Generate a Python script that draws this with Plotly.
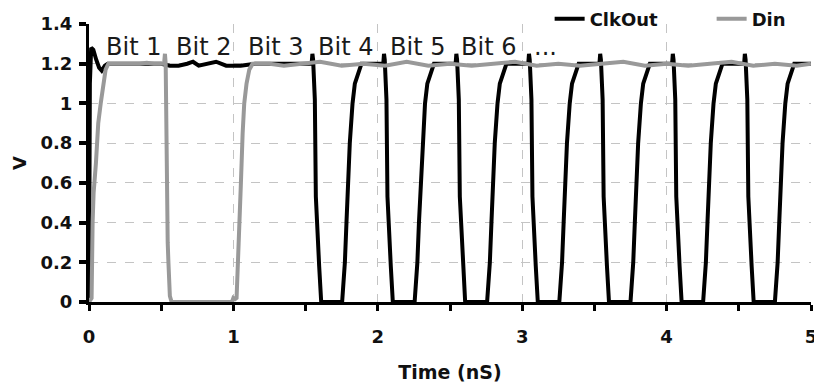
import plotly.graph_objects as go

# ---- data ----
clk_t = [0.000, 0.006, 0.015, 0.030, 0.050, 0.070, 0.088, 0.110, 0.130, 0.300, 0.500,
         0.560, 0.620, 0.680, 0.720, 0.760, 0.820, 0.880, 0.950, 1.050, 1.150, 1.400, 1.542,
         1.547, 1.552, 1.564, 1.571, 1.594, 1.603, 1.608,
         1.753, 1.772, 1.783, 1.795, 1.806, 1.825, 1.841, 1.887, 2.038,
         2.043, 2.048, 2.060, 2.067, 2.090, 2.099, 2.104,
         2.255, 2.274, 2.285, 2.297, 2.308, 2.327, 2.343, 2.389, 2.539,
         2.544, 2.549, 2.561, 2.568, 2.591, 2.600, 2.605,
         2.757, 2.776, 2.787, 2.799, 2.810, 2.829, 2.845, 2.891, 3.042,
         3.047, 3.052, 3.064, 3.071, 3.094, 3.103, 3.108,
         3.257, 3.276, 3.287, 3.299, 3.310, 3.329, 3.345, 3.391, 3.535,
         3.540, 3.545, 3.557, 3.564, 3.587, 3.596, 3.601,
         3.750, 3.769, 3.780, 3.792, 3.803, 3.822, 3.838, 3.884, 4.038,
         4.043, 4.048, 4.060, 4.067, 4.090, 4.099, 4.104,
         4.253, 4.272, 4.283, 4.295, 4.306, 4.325, 4.341, 4.387, 4.537,
         4.542, 4.547, 4.559, 4.566, 4.589, 4.598, 4.603,
         4.750, 4.769, 4.780, 4.792, 4.803, 4.822, 4.838, 4.884, 5.000]
clk_v = [0.00, 1.10, 1.28, 1.27, 1.22, 1.18, 1.165, 1.19, 1.20, 1.20, 1.20,
         1.19, 1.19, 1.20, 1.21, 1.19, 1.20, 1.21, 1.19, 1.19, 1.20, 1.20, 1.20,
         1.25, 1.22, 1.02, 0.53, 0.18, 0.08, 0.00,
         0.00, 0.20, 0.40, 0.60, 0.80, 1.00, 1.10, 1.20, 1.20,
         1.25, 1.22, 1.02, 0.53, 0.18, 0.08, 0.00,
         0.00, 0.20, 0.40, 0.60, 0.80, 1.00, 1.10, 1.20, 1.20,
         1.25, 1.22, 1.02, 0.53, 0.18, 0.08, 0.00,
         0.00, 0.20, 0.40, 0.60, 0.80, 1.00, 1.10, 1.20, 1.20,
         1.25, 1.22, 1.02, 0.53, 0.18, 0.08, 0.00,
         0.00, 0.20, 0.40, 0.60, 0.80, 1.00, 1.10, 1.20, 1.20,
         1.25, 1.22, 1.02, 0.53, 0.18, 0.08, 0.00,
         0.00, 0.20, 0.40, 0.60, 0.80, 1.00, 1.10, 1.20, 1.20,
         1.25, 1.22, 1.02, 0.53, 0.18, 0.08, 0.00,
         0.00, 0.20, 0.40, 0.60, 0.80, 1.00, 1.10, 1.20, 1.20,
         1.25, 1.22, 1.02, 0.53, 0.18, 0.08, 0.00,
         0.00, 0.20, 0.40, 0.60, 0.80, 1.00, 1.10, 1.20, 1.20]

din_t = [0.000, 0.018, 0.025, 0.032, 0.048, 0.064, 0.081, 0.099, 0.115, 0.134, 0.200, 0.250,
         0.300, 0.350, 0.400, 0.450, 0.520, 0.526, 0.531, 0.534, 0.545, 0.550, 0.560, 0.572,
         0.950, 0.990, 1.000, 1.012, 1.022, 1.030, 1.038, 1.052, 1.064, 1.075, 1.091, 1.110,
         1.133, 1.250, 1.350, 1.450, 1.600, 1.750, 1.900, 2.050, 2.200, 2.350, 2.500, 2.650,
         2.800, 2.950, 3.100, 3.250, 3.400, 3.550, 3.700, 3.850, 4.000, 4.150, 4.300, 4.450,
         4.600, 4.750, 4.900, 5.000]
din_v = [0.00, 0.02, 0.40, 0.55, 0.70, 0.90, 1.00, 1.10, 1.17, 1.20, 1.20, 1.195,
         1.20, 1.20, 1.205, 1.20, 1.20, 1.25, 1.20, 0.90, 0.30, 0.20, 0.03, 0.00,
         0.00, 0.00, 0.02, 0.015, 0.02, 0.15, 0.30, 0.60, 0.85, 1.00, 1.10, 1.17,
         1.20, 1.20, 1.19, 1.20, 1.21, 1.19, 1.20, 1.19, 1.21, 1.19, 1.20, 1.19,
         1.20, 1.21, 1.19, 1.20, 1.19, 1.20, 1.21, 1.19, 1.20, 1.19, 1.20, 1.21,
         1.19, 1.20, 1.19, 1.20]

bit_labels = ["Bit 1", "Bit 2", "Bit 3", "Bit 4", "Bit 5", "Bit 6", "..."]
bit_x = [0.105, 0.590, 1.088, 1.573, 2.071, 2.562, 3.067]
bit_y = 1.285

x_ticks = [0, 1, 2, 3, 4, 5]
y_ticks = [0, 0.2, 0.4, 0.6, 0.8, 1, 1.2, 1.4]
y_tick_text = ["0", "0.2", "0.4", "0.6", "0.8", "1", "1.2", "1.4"]

FONT = "DejaVu Sans"

fig = go.Figure()
fig.add_trace(go.Scatter(x=clk_t, y=clk_v, mode="lines", name="ClkOut",
                         line=dict(color="#000000", width=4)))
fig.add_trace(go.Scatter(x=din_t, y=din_v, mode="lines", name="Din",
                         line=dict(color="#999999", width=4)))

for lab, bx in zip(bit_labels, bit_x):
    fig.add_annotation(x=bx, y=bit_y, xref="x", yref="y", text=lab, showarrow=False,
                       xanchor="left", yanchor="middle",
                       font=dict(family=FONT, size=24, color="#1a1a1a"))

fig.update_layout(
    width=814, height=385, autosize=False,
    margin=dict(l=89, r=3, t=24, b=83, autoexpand=False),
    paper_bgcolor="white", plot_bgcolor="white",
    font=dict(family=FONT, color="#111111"),
    showlegend=True,
    legend=dict(orientation="h", x=0.638, xanchor="left", y=1.018, yanchor="middle",
                font=dict(family=FONT, size=18, weight="bold", color="#111111"),
                bgcolor="rgba(0,0,0,0)", itemwidth=30, entrywidth=117),
    xaxis=dict(range=[0, 5], tickvals=x_ticks, ticks="outside", ticklen=6, tickwidth=3,
               tickcolor="black", showline=True, linecolor="black", linewidth=3,
               showgrid=True, gridcolor="#c4c4c4", griddash="dash", gridwidth=1,
               zeroline=False, ticklabelstandoff=10, automargin=False,
               ticklabeloverflow="allow",
               tickfont=dict(family=FONT, size=18, weight="bold", color="#111111"),
               minor=dict(dtick=0.5, tick0=0, ticks="outside", ticklen=6, tickwidth=3,
                          tickcolor="black", showgrid=False),
               title=dict(text="Time (nS)", standoff=21,
                          font=dict(family=FONT, size=19, weight="bold", color="#111111"))),
    yaxis=dict(range=[0, 1.4], tickvals=y_ticks, ticktext=y_tick_text, ticks="outside",
               ticklen=7, tickwidth=4, tickcolor="black", showline=True,
               linecolor="black", linewidth=3, showgrid=True, gridcolor="#c4c4c4",
               griddash="dash", gridwidth=1, zeroline=False, ticklabelstandoff=3,
               automargin=False,
               tickfont=dict(family=FONT, size=18, weight="bold", color="#111111"),
               title=dict(text="V", standoff=10,
                          font=dict(family=FONT, size=18, weight="bold", color="#111111"))),
)

fig.write_html("out.html", config={"displayModeBar": False},
               post_script="document.body.style.margin='0px';")
